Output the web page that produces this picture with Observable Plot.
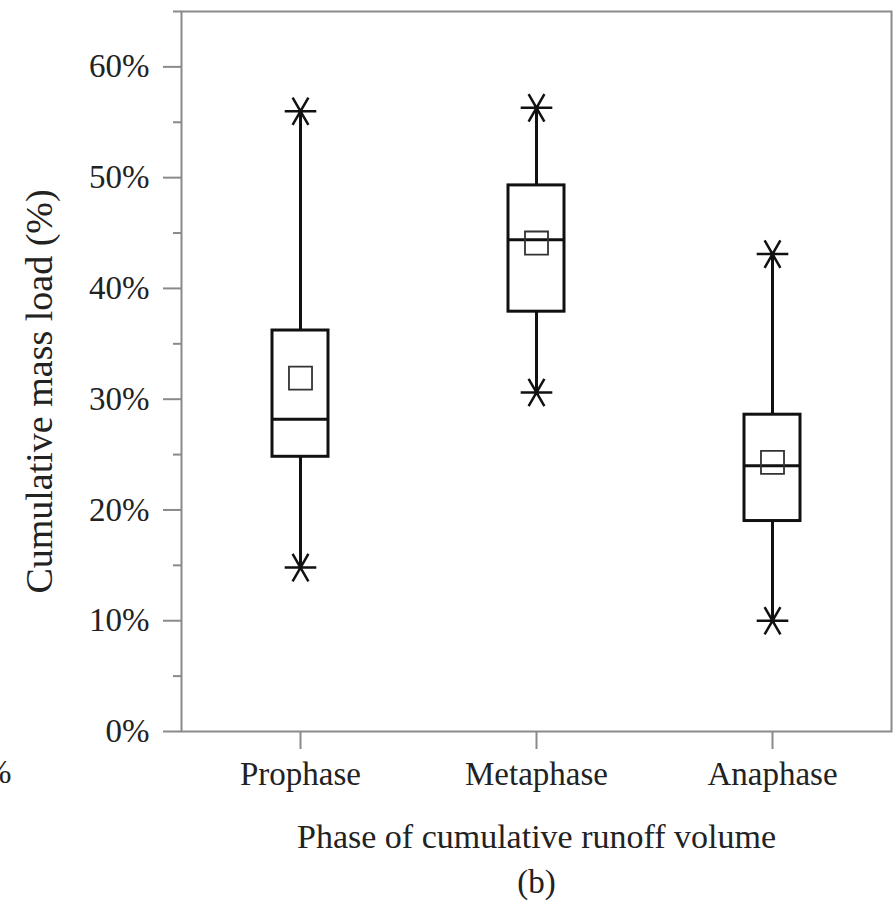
<!DOCTYPE html>
<html>
<head>
<meta charset="utf-8">
<script src="https://cdn.jsdelivr.net/npm/d3@7"></script>
<script src="https://cdn.jsdelivr.net/npm/@observablehq/plot@0.6"></script>
<style>
  html, body { margin: 0; padding: 0; background: #fff; }
  #chart svg { display: block; }
</style>
</head>
<body>
<div id="chart"></div>
<script>
const phases = ["Prophase", "Metaphase", "Anaphase"];
const minV   = [14.8, 30.6, 10.0];
const q1V    = [24.8, 37.9, 19.0];
const medV   = [28.2, 44.4, 24.0];
const q3V    = [36.2, 49.3, 28.6];
const maxV   = [56.0, 56.3, 43.1];
const meanV  = [31.9, 44.1, 24.3];
const majorTicks = [0, 10, 20, 30, 40, 50, 60];
const minorTicks = [5, 15, 25, 35, 45, 55, 65];
const yLabel = "Cumulative mass load (%)";
const xLabel = "Phase of cumulative runoff volume";
const panelTag = "(b)";

const rows = phases.map((p, i) => ({
  phase: p, min: minV[i], q1: q1V[i], med: medV[i], q3: q3V[i], max: maxV[i], mean: meanV[i]
}));

const font = "'Liberation Serif', 'Times New Roman', serif";
const gray = "#8a8a8a";
const ink = "#111";
const txt = "#222";

const chart = Plot.plot({
  width: 893,
  height: 909,
  marginTop: 11,
  marginLeft: 181,
  marginRight: 2,
  marginBottom: 178,
  style: { fontFamily: font, background: "#fff", color: txt },
  x: { type: "band", domain: phases, padding: 0 },
  y: { domain: [0, 65] },
  marks: [
    Plot.frame({ stroke: gray, strokeWidth: 2 }),
    Plot.axisY({ ticks: minorTicks, tickSize: 8, text: null, label: null, stroke: gray, strokeWidth: 2 }),
    Plot.axisY({
      ticks: majorTicks, tickSize: 18, tickPadding: 14, tickFormat: d => d + "%",
      fontSize: 33, stroke: gray, strokeWidth: 2, fill: txt, label: null
    }),
    Plot.axisX({ tickSize: 18, tickPadding: 12, fontSize: 33, stroke: gray, strokeWidth: 2, fill: txt, label: null }),
    Plot.ruleX(rows, { x: "phase", y1: "min", y2: "max", stroke: ink, strokeWidth: 3 }),
    Plot.barY(rows, { x: "phase", y1: "q1", y2: "q3", fill: "#fff", stroke: ink, strokeWidth: 3, insetLeft: 90, insetRight: 90 }),
    Plot.tickY(rows, { x: "phase", y: "med", stroke: ink, strokeWidth: 3, insetLeft: 90, insetRight: 90 }),
    Plot.dot(rows, { x: "phase", y: "mean", symbol: "square", r: 13, stroke: "#333", strokeWidth: 1.8, fill: "none" }),
    Plot.dot(rows, { x: "phase", y: "min", symbol: "asterisk", rotate: 90, r: 15, stroke: ink, strokeWidth: 2.5 }),
    Plot.dot(rows, { x: "phase", y: "max", symbol: "asterisk", rotate: 90, r: 15, stroke: ink, strokeWidth: 2.5 }),
    Plot.text([yLabel], { text: d => d, frameAnchor: "left", textAnchor: "middle", rotate: -90, dx: -142, dy: 20, fontSize: 38, fill: txt }),
    Plot.text([xLabel], { text: d => d, frameAnchor: "bottom", dy: 116, fontSize: 34, fill: txt }),
    Plot.text([panelTag], { text: d => d, frameAnchor: "bottom", dy: 161, fontSize: 33, fill: txt }),
    Plot.text(["%"], { text: d => d, frameAnchor: "bottom-left", dx: -170, dy: 51, textAnchor: "end", fontSize: 33, fill: txt })
  ]
});
document.getElementById("chart").appendChild(chart);
</script>
</body>
</html>
